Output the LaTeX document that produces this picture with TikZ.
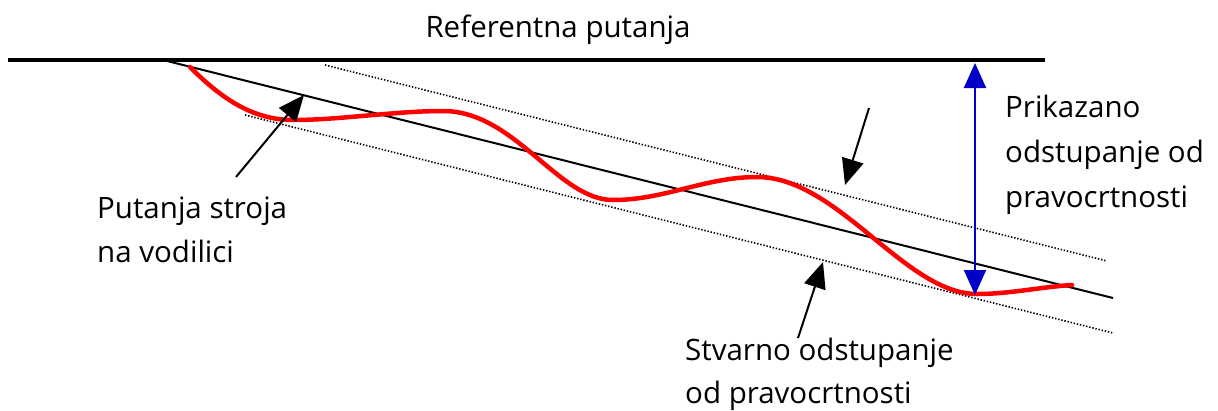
\documentclass[tikz,border=0pt]{standalone}
\usepackage{fontspec}
\setmainfont{Open Sans}
\usetikzlibrary{arrows.meta}
\tikzset{
  lbl/.style={anchor=base west, inner sep=0pt, font=\fontsize{29.5}{36}\selectfont},
  refline/.style={line width=4.5pt},
  guide/.style={line width=2pt},
  dotline/.style={line width=1.6pt, dash pattern=on 1.4pt off 1.8pt},
  path/.style={line width=4.5pt, red, line cap=round},
  pointer/.style={line width=2pt, -{Triangle[length=26pt,width=22pt]}},
  meas/.style={line width=2pt, color=measblue, {Triangle[length=25pt,width=22pt]}-{Triangle[length=25pt,width=22pt]}}
}
\definecolor{measblue}{RGB}{0,0,200}
\begin{document}
\begin{tikzpicture}[x=1pt,y=-1pt]
\useasboundingbox (0,0) rectangle (1218,410);
% reference line
\coordinate (r1) at (8,60);
\coordinate (r2) at (1045,60);
\draw[refline] (r1) -- (r2);
\node[lbl, anchor=base] (reft) at (558,37) {Referentna putanja};
% guide line
\coordinate (g1) at (167,61);
\coordinate (g2) at (1113,298);
\draw[guide] (g1) -- (g2);
% dotted bands
\coordinate (u1) at (325,65);
\coordinate (u2) at (1107,261);
\draw[dotline] (u1) -- (u2);
\coordinate (l1) at (245,115);
\coordinate (l2) at (1113,333);
\draw[dotline] (l1) -- (l2);
% red path
\draw[path] (190,67) .. controls (218,95) and (250,120) .. (293,120)
  .. controls (340,120) and (395,111) .. (443,111)
  .. controls (515,111) and (558,200) .. (613,200)
  .. controls (665,200) and (705,177) .. (757,177)
  .. controls (838,177) and (905,294) .. (977,294)
  .. controls (1010,294) and (1040,287) .. (1072,285);
% blue measure
\coordinate (b1) at (975,63);
\coordinate (b2) at (975,295);
\draw[meas] (b1) -- (b2);
% labels
\node[lbl] (p1) at (1005,117) {Prikazano};
\node[lbl] (p2) at (1005,162) {odstupanje od};
\node[lbl] (p3) at (1005,207) {pravocrtnosti};
\node[lbl] (s1) at (97,218) {Putanja stroja};
\node[lbl] (s2) at (97,262) {na vodilici};
\node[lbl] (t1) at (685,360) {Stvarno odstupanje};
\node[lbl] (t2) at (685,403) {od pravocrtnosti};
% pointers
\coordinate (a1s) at (236,177);
\coordinate (a1e) at (304,95);
\draw[pointer] (a1s) -- (a1e);
\coordinate (a2s) at (869,108);
\coordinate (a2e) at (845,185);
\draw[pointer] (a2s) -- (a2e);
\coordinate (a3s) at (798,338);
\coordinate (a3e) at (823,262);
\draw[pointer] (a3s) -- (a3e);
\end{tikzpicture}
\end{document}
